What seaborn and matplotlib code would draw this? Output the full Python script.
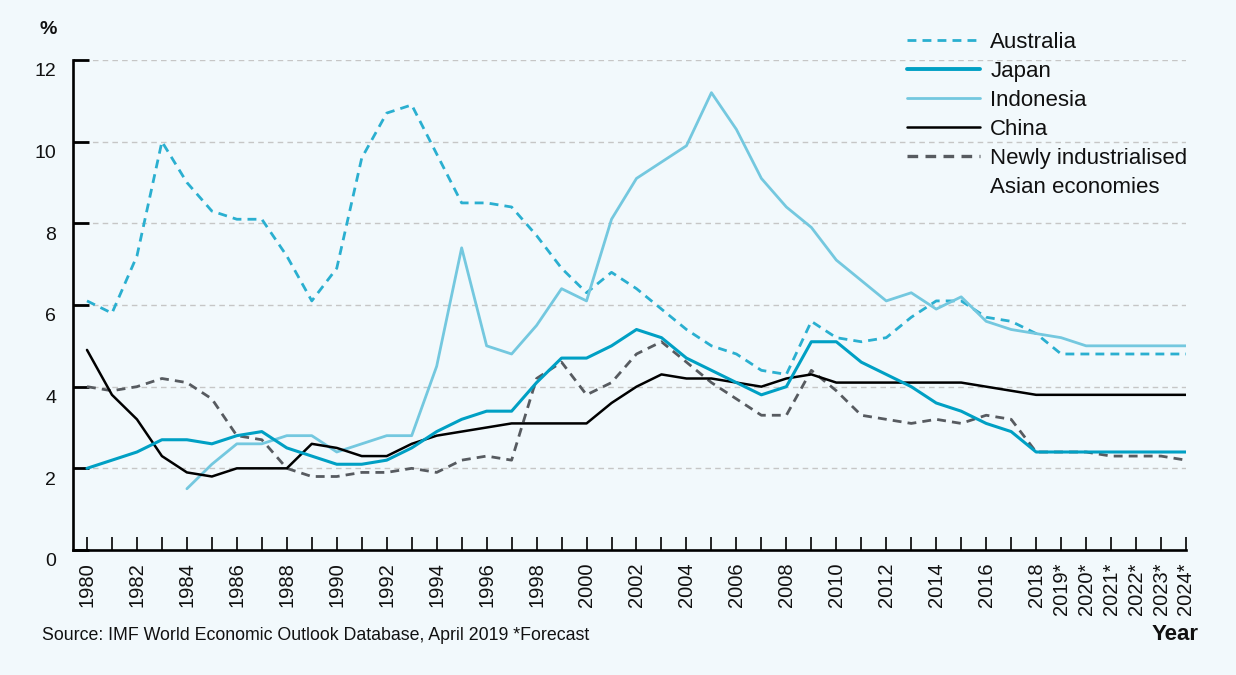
import numpy as np
import pandas as pd
import matplotlib
matplotlib.use("Agg")
import matplotlib.pyplot as plt
import matplotlib.transforms as mtransforms
from matplotlib.lines import Line2D
import seaborn as sns

years = list(range(1980, 2025))

australia = [6.1, 5.8, 7.2, 10.0, 9.0, 8.3, 8.1, 8.1, 7.2, 6.1,
             6.9, 9.6, 10.7, 10.9, 9.7, 8.5, 8.5, 8.4, 7.7, 6.9,
             6.3, 6.8, 6.4, 5.9, 5.4, 5.0, 4.8, 4.4, 4.3, 5.6,
             5.2, 5.1, 5.2, 5.7, 6.1, 6.1, 5.7, 5.6, 5.3, 4.8,
             4.8, 4.8, 4.8, 4.8, 4.8]

japan = [2.0, 2.2, 2.4, 2.7, 2.7, 2.6, 2.8, 2.9, 2.5, 2.3,
         2.1, 2.1, 2.2, 2.5, 2.9, 3.2, 3.4, 3.4, 4.1, 4.7,
         4.7, 5.0, 5.4, 5.2, 4.7, 4.4, 4.1, 3.8, 4.0, 5.1,
         5.1, 4.6, 4.3, 4.0, 3.6, 3.4, 3.1, 2.9, 2.4, 2.4,
         2.4, 2.4, 2.4, 2.4, 2.4]

indonesia_years = list(range(1984, 2025))
indonesia = [1.5, 2.1, 2.6, 2.6, 2.8, 2.8,
             2.4, 2.6, 2.8, 2.8, 4.5, 7.4, 5.0, 4.8, 5.5, 6.4,
             6.1, 8.1, 9.1, 9.5, 9.9, 11.2, 10.3, 9.1, 8.4, 7.9,
             7.1, 6.6, 6.1, 6.3, 5.9, 6.2, 5.6, 5.4, 5.3, 5.2,
             5.0, 5.0, 5.0, 5.0, 5.0]

china = [4.9, 3.8, 3.2, 2.3, 1.9, 1.8, 2.0, 2.0, 2.0, 2.6,
         2.5, 2.3, 2.3, 2.6, 2.8, 2.9, 3.0, 3.1, 3.1, 3.1,
         3.1, 3.6, 4.0, 4.3, 4.2, 4.2, 4.1, 4.0, 4.2, 4.3,
         4.1, 4.1, 4.1, 4.1, 4.1, 4.1, 4.0, 3.9, 3.8, 3.8,
         3.8, 3.8, 3.8, 3.8, 3.8]

niae = [4.0, 3.9, 4.0, 4.2, 4.1, 3.7, 2.8, 2.7, 2.0, 1.8,
        1.8, 1.9, 1.9, 2.0, 1.9, 2.2, 2.3, 2.2, 4.2, 4.6,
        3.8, 4.1, 4.8, 5.1, 4.6, 4.1, 3.7, 3.3, 3.3, 4.4,
        3.9, 3.3, 3.2, 3.1, 3.2, 3.1, 3.3, 3.2, 2.4, 2.4,
        2.4, 2.3, 2.3, 2.3, 2.2]

tick_labels = [str(y) if (y <= 2018 and y % 2 == 0) else (f"{y}*" if y >= 2019 else "")
               for y in years]
y_ticks = [0, 2, 4, 6, 8, 10, 12]

BG = "#f2f9fc"
sns.set_theme(style="white")
plt.rcParams["font.family"] = ["Liberation Sans", "DejaVu Sans"]
plt.rcParams["figure.facecolor"] = BG
plt.rcParams["axes.facecolor"] = BG

fig = plt.figure(figsize=(12.36, 6.75), dpi=100)
ax = fig.add_axes([73 / 1236, 1 - 550 / 675, (1186 - 73) / 1236, (550 - 60) / 675])

c_aus = "#2aafd0"
c_jap = "#00a0c4"
c_ind = "#74c8df"
c_chn = "#000000"
c_nia = "#575b60"
dash = (0, (3.2, 2.2))

sns.lineplot(x=years, y=australia, ax=ax, color=c_aus, linewidth=2.0,
             linestyle=dash, label="Australia")
sns.lineplot(x=indonesia_years, y=indonesia, ax=ax, color=c_ind, linewidth=2.0,
             label="Indonesia")
sns.lineplot(x=years, y=niae, ax=ax, color=c_nia, linewidth=2.0,
             linestyle=dash, label="Newly industrialised")
sns.lineplot(x=years, y=china, ax=ax, color=c_chn, linewidth=1.8, label="China")
sns.lineplot(x=years, y=japan, ax=ax, color=c_jap, linewidth=2.2, label="Japan")

ax.set_xlim(1979.44, 2024)
ax.set_ylim(0, 12)

for v in y_ticks[1:]:
    ax.axhline(v, color="#c6c6c6", linewidth=1.0, linestyle=(0, (4, 3)), zorder=0)

ax.set_xticks(years)
ax.set_xticklabels(tick_labels, rotation=90, fontsize=14.5, color="#111111")
ax.set_yticks(y_ticks)
ax.set_yticklabels([str(v) for v in y_ticks], fontsize=14, color="#111111")
ax.tick_params(axis="x", bottom=True, direction="in", length=9.3, width=1.2, color="black", pad=9)
ax.tick_params(axis="y", left=True, direction="in", length=11.5, width=2.0, color="black", pad=12)
offset = mtransforms.ScaledTranslation(0, -7 / 72, fig.dpi_scale_trans)
for lab in ax.get_yticklabels():
    lab.set_transform(lab.get_transform() + offset)

for s in ["top", "right"]:
    ax.spines[s].set_visible(False)
for s in ["left", "bottom"]:
    ax.spines[s].set_color("black")
    ax.spines[s].set_linewidth(1.9)
ax.set_xlabel("")
ax.set_ylabel("")
if ax.get_legend():
    ax.get_legend().remove()

handles = [
    Line2D([], [], color=c_aus, linewidth=2.0, linestyle=dash),
    Line2D([], [], color=c_jap, linewidth=2.8),
    Line2D([], [], color=c_ind, linewidth=2.0),
    Line2D([], [], color=c_chn, linewidth=1.8),
    Line2D([], [], color=c_nia, linewidth=2.4, linestyle=dash),
    Line2D([], [], color="none", linewidth=0),
]
labels = ["Australia", "Japan", "Indonesia", "China", "Newly industrialised", "Asian economies"]
leg = fig.legend(handles, labels, loc="upper left", bbox_to_anchor=(907 / 1236, 1 - 32 / 675),
                 frameon=False, fontsize=16, handlelength=3.3, handletextpad=0.45,
                 labelspacing=0.36, borderpad=0, borderaxespad=0)
for t in leg.get_texts():
    t.set_color("#111111")

fig.text(40 / 1236, 1 - 30 / 675, "%", fontsize=14, fontweight="bold", va="center", ha="left",
         color="#111111")
fig.text(1199 / 1236, 1 - 634 / 675, "Year", fontsize=16, fontweight="bold", va="center",
         ha="right", color="#111111")
fig.text(42 / 1236, 1 - 636 / 675, "Source: IMF World Economic Outlook Database, April 2019 *Forecast",
         fontsize=12.8, va="center", ha="left", color="#111111")

fig.savefig("out.png", dpi=100, facecolor=BG)
